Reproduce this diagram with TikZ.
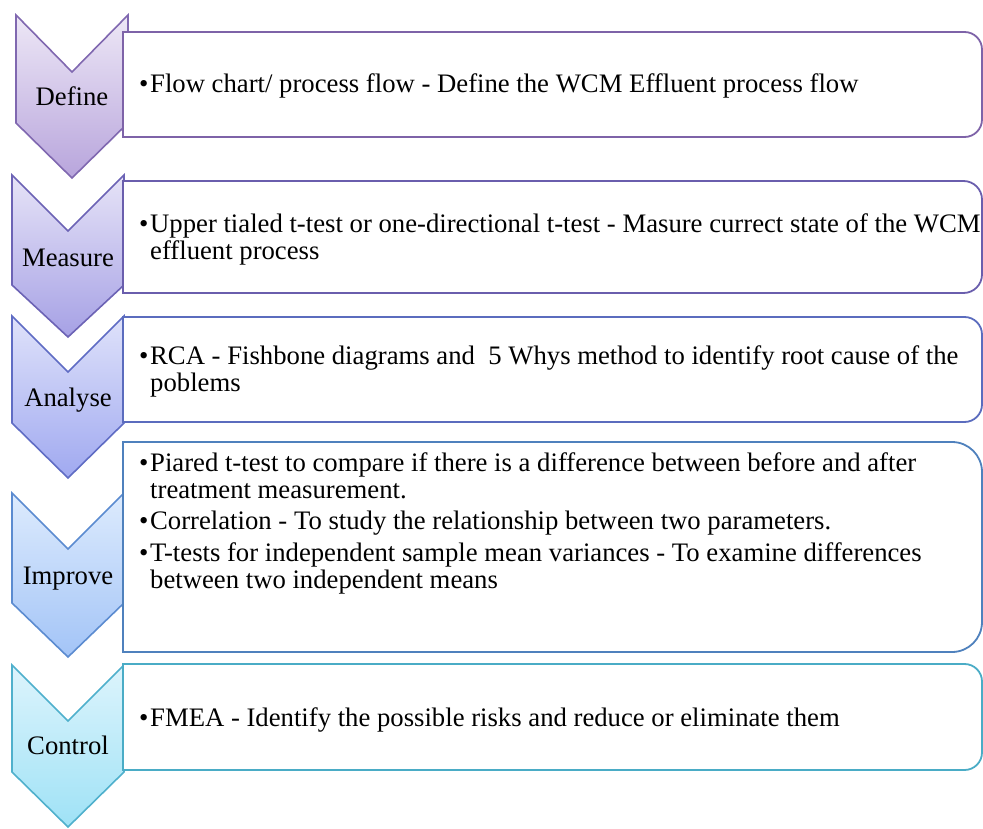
\documentclass[tikz,border=0pt]{standalone}
\usepackage{fontspec}
\setmainfont{Liberation Serif}
% stage colours: top / bottom of the chevron gradient, chevron outline, card outline
\definecolor{defTop}{HTML}{EDE7F6}\definecolor{defBot}{HTML}{B8A5DC}\definecolor{defLine}{HTML}{8068B0}\definecolor{defCard}{HTML}{7E63A8}
\definecolor{meaTop}{HTML}{E6E3F7}\definecolor{meaBot}{HTML}{A6A1E5}\definecolor{meaLine}{HTML}{6C63B5}\definecolor{meaCard}{HTML}{6A5EAD}
\definecolor{anaTop}{HTML}{DFE2FA}\definecolor{anaBot}{HTML}{A0A9F0}\definecolor{anaLine}{HTML}{5F6CC4}\definecolor{anaCard}{HTML}{5B6CBE}
\definecolor{impTop}{HTML}{DDEBFD}\definecolor{impBot}{HTML}{A3C4F7}\definecolor{impLine}{HTML}{5B8BD0}\definecolor{impCard}{HTML}{4F81BD}
\definecolor{conTop}{HTML}{DDF4FC}\definecolor{conBot}{HTML}{9FE2F6}\definecolor{conLine}{HTML}{4FB0CC}\definecolor{conCard}{HTML}{4AACC6}
\newcommand\bul{\makebox[11pt][l]{•}}
\begin{document}
\begin{tikzpicture}[x=1pt,y=-1pt,
  chev/.style={line width=1.6pt, line join=miter},
  card/.style={line width=1.8pt, fill=white},
  stage/.style={anchor=base, inner sep=0pt, font=\fontsize{26.7}{27}\selectfont},
  items/.style={anchor=base west, inner sep=0pt, font=\fontsize{26.7}{27}\selectfont}]
\useasboundingbox (0,0) rectangle (983,829);

% chevrons
\draw[chev, draw=defLine, top color=defTop, bottom color=defBot]
  (16,15) -- (72,72) -- (128,15) -- (128,123) -- (72,178) -- (16,123) -- cycle;
\draw[chev, draw=meaLine, top color=meaTop, bottom color=meaBot]
  (12,175) -- (68,231) -- (124,175) -- (124,285) -- (68,337) -- (12,285) -- cycle;
\draw[chev, draw=anaLine, top color=anaTop, bottom color=anaBot]
  (12,316) -- (68,372) -- (124,316) -- (124,423) -- (68,478) -- (12,423) -- cycle;
\draw[chev, draw=impLine, top color=impTop, bottom color=impBot]
  (12,493) -- (68,549) -- (124,493) -- (124,603) -- (68,657) -- (12,603) -- cycle;
\draw[chev, draw=conLine, top color=conTop, bottom color=conBot]
  (12,665) -- (68,721) -- (124,665) -- (124,772) -- (68,827) -- (12,772) -- cycle;

% cards with rounded right-hand corners
\draw[card, draw=defCard] (123,32) -- (964.5,32) arc[start angle=-90,end angle=0,radius=17.5]
  -- (982,119.5) arc[start angle=0,end angle=90,radius=17.5] -- (123,137) -- cycle;
\draw[card, draw=meaCard] (123,181) -- (963.5,181) arc[start angle=-90,end angle=0,radius=18.5]
  -- (982,274.5) arc[start angle=0,end angle=90,radius=18.5] -- (123,293) -- cycle;
\draw[card, draw=anaCard] (123,317) -- (964.5,317) arc[start angle=-90,end angle=0,radius=17.5]
  -- (982,404.5) arc[start angle=0,end angle=90,radius=17.5] -- (123,422) -- cycle;
\draw[card, draw=impCard] (123,442) -- (952,442) arc[start angle=-90,end angle=0,radius=30]
  -- (982,622) arc[start angle=0,end angle=90,radius=30] -- (123,652) -- cycle;
\draw[card, draw=conCard] (123,664) -- (964.5,664) arc[start angle=-90,end angle=0,radius=17.5]
  -- (982,752.5) arc[start angle=0,end angle=90,radius=17.5] -- (123,770) -- cycle;

% stage names
\node[stage] (define)  at (72,106)  {Define};
\node[stage] (measure) at (68,266)  {Measure};
\node[stage] (analyse) at (68,406)  {Analyse};
\node[stage] (improve) at (68,584)  {Improve};
\node[stage] (control) at (68,754)  {Control};

% bullet texts
\node[items] (defText) at (139,93) {\begin{tabular}[t]{@{}l@{}l@{}}
  \bul & Flow chart/ process flow - Define the WCM Effluent process flow
\end{tabular}};
\node[items] (meaText) at (139,233) {\begin{tabular}[t]{@{}l@{}l@{}}
  \bul & Upper tialed t-test or one-directional t-test - Masure currect state of the WCM\\
       & effluent process
\end{tabular}};
\node[items] (anaText) at (139,364) {\begin{tabular}[t]{@{}l@{}l@{}}
  \bul & RCA - Fishbone diagrams and\ \ 5 Whys method to identify root cause of the\\
       & poblems
\end{tabular}};
\node[items] (impText) at (139,471) {\begin{tabular}[t]{@{}l@{}l@{}}
  \bul & Piared t-test to compare if there is a difference between before and after\\
       & treatment measurement.\\[4.5pt]
  \bul & Correlation - To study the relationship between two parameters.\\[4.5pt]
  \bul & T-tests for independent sample mean variances - To examine differences\\
       & between two independent means
\end{tabular}};
\node[items] (conText) at (139,726) {\begin{tabular}[t]{@{}l@{}l@{}}
  \bul & FMEA - Identify the possible risks and reduce or eliminate them
\end{tabular}};
\end{tikzpicture}
\end{document}
